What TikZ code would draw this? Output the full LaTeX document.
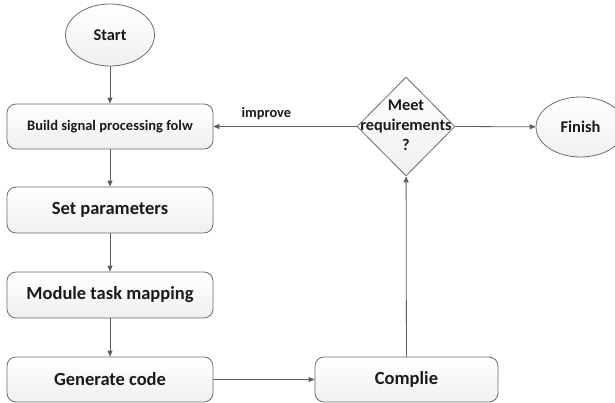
\documentclass[tikz,border=0pt]{standalone}
\usepackage{fontspec}
\setmainfont{Carlito}
\usetikzlibrary{shapes.geometric,arrows.meta}
\definecolor{edge}{HTML}{6E6E6E}
\definecolor{wire}{HTML}{5F5F5F}
\definecolor{ink}{HTML}{1A1A1A}
\tikzset{
  base/.style={draw=edge, line width=0.8pt, top color=white, bottom color=black!6,
    text=ink, font=\bfseries, inner sep=0pt, align=center},
  stepbox/.style={base, rectangle, rounded corners=9pt, minimum width=206pt,
    minimum height=45pt, font=\fontsize{18.5}{20}\bfseries},
  terminal/.style={base, ellipse, minimum width=89pt, minimum height=62pt,
    font=\fontsize{16.4}{18}\bfseries},
  decision/.style={base, diamond, minimum width=98pt, minimum height=99pt},
  flow/.style={draw=wire, line width=0.8pt, -{Triangle[length=6pt,width=5pt]}},
  lbl/.style={text=ink, inner sep=0pt, align=center}
}
\begin{document}
\begin{tikzpicture}[x=1pt,y=-1pt]
\useasboundingbox (0,0) rectangle (615,402);
\fill[white] (0,0) rectangle (615,402);

% left column of processing steps
\node[terminal] (start) at (110,35) {Start};
\node[stepbox, font=\fontsize{14.5}{16}\bfseries] (build) at (110,126.5) {Build signal processing folw};
\node[stepbox, minimum height=46pt] (params) at (110,210) {Set parameters};
\node[stepbox, minimum height=46pt] (mapping) at (110,295) {Module task mapping};
\node[stepbox] (gencode) at (110,379.5) {Generate code};

% compile, check, finish
\node[stepbox, minimum width=183pt] (compile) at (406.5,379.5) {Complie};
\node[decision] (check) at (406,126.5) {};
\node[lbl, font=\fontsize{16.3}{20}\bfseries] (checktext) at ([yshift=1.5pt]check) {Meet\\requirements\\?};
\node[terminal, minimum height=60pt] (finish) at (580.5,127) {Finish};

% connectors
\draw[flow] (start) -- (build);
\draw[flow] (build) -- (params);
\draw[flow] (params) -- (mapping);
\draw[flow] (mapping) -- (gencode);
\draw[flow] (gencode) -- (compile);
\draw[flow] (compile) -- (check);
\draw[flow] (check.west) -- node[lbl, above=6pt, pos=0.63, font=\fontsize{14.4}{16}\bfseries] (improve) {improve} (build);
\draw[flow] (check.east) -- (finish);
\end{tikzpicture}
\end{document}
